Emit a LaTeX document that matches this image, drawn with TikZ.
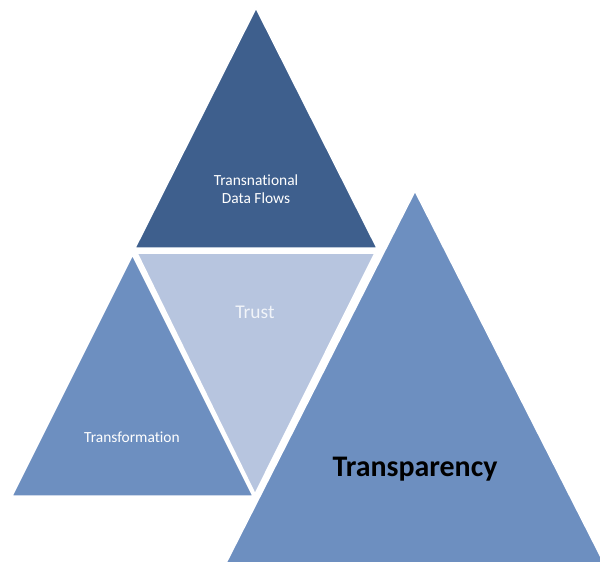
\documentclass[tikz,border=0pt]{standalone}
\usepackage{fontspec}
\setmainfont[Ligatures=NoCommon]{Carlito}
\usetikzlibrary{positioning}
\definecolor{darkblue}{RGB}{62,95,141}
\definecolor{midblue}{RGB}{109,143,192}
\definecolor{paleblue}{RGB}{183,197,223}

\begin{document}
\begin{tikzpicture}[x=1bp,y=-1bp]
    % Triangle and text styles
    \tikzstyle{tri} = [draw=white, line width=1.5bp, line join=miter]
    \tikzstyle{txt} = [text=white, align=center, font=\fontsize{15.5}{18}\selectfont]
    \useasboundingbox (0,0) rectangle (600,562);
    \clip (0,0) rectangle (600,562);
    % Corners
    \coordinate (top_apex) at (256,8);
    \coordinate (top_left) at (135,248);
    \coordinate (top_right) at (377,248);
    \coordinate (mid_left) at (137,253);
    \coordinate (mid_right) at (375,253);
    \coordinate (mid_apex) at (255,494);
    \coordinate (left_apex) at (132.5,255);
    \coordinate (left_left) at (12,496);
    \coordinate (left_right) at (253,496);
    \coordinate (right_apex) at (415,191);
    \coordinate (right_left) at (226,563);
    \coordinate (right_right) at (604,563);
    % Triangles
    \filldraw[tri, fill=darkblue] (top_apex) -- (top_left) -- (top_right) -- cycle;
    \filldraw[tri, fill=paleblue] (mid_left) -- (mid_right) -- (mid_apex) -- cycle;
    \filldraw[tri, fill=midblue] (left_apex) -- (left_left) -- (left_right) -- cycle;
    \filldraw[tri, fill=midblue] (right_apex) -- (right_left) -- (right_right) -- cycle;
    % Labels
    \node[txt] (flows) at (256,189) {Transnational\\Data Flows};
    \node[txt, text=white!80!paleblue, font=\fontsize{19.5}{22}\selectfont] (trust) at (255,312) {Trust};
    \node[txt] (transformation) at (132,437) {Transformation};
    \node[txt, text=black, font=\fontsize{30}{34}\selectfont\bfseries] (transparency) at (415,469) {Transparency};
\end{tikzpicture}
\end{document}
